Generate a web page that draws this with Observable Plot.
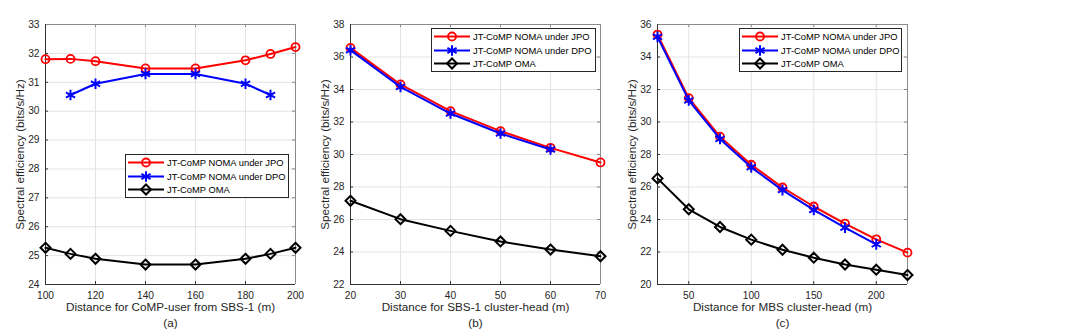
<!DOCTYPE html>
<html>
<head>
<meta charset="utf-8">
<script src="https://cdn.jsdelivr.net/npm/d3@7"></script>
<script src="https://cdn.jsdelivr.net/npm/@observablehq/plot@0.6"></script>
<style>
  html, body { margin: 0; padding: 0; background: #fff; }
  #wrap { position: relative; width: 1066px; height: 334px; overflow: hidden; font-family: "Liberation Sans", Arial, Helvetica, sans-serif; }
  #wrap > svg { position: absolute; top: 0; }
  .legend { position: absolute; background: #fff; border: 1px solid #262626; box-sizing: border-box; padding: 1px 0 0 1px; font-size: 9.4px; color: #000; }
  .legend .row { display: flex; align-items: center; height: 13.5px; white-space: nowrap; }
  .legend .row svg { display: block; margin-right: 2px; }
</style>
</head>
<body>
<div id="wrap"></div>
<script>
// ---------- data ----------
const seriesNames = ["JT-CoMP NOMA under JPO", "JT-CoMP NOMA under DPO", "JT-CoMP OMA"];
const yLabel = "Spectral efficiency (bits/s/Hz)";

// panel (a)
const aX = [100, 110, 120, 140, 160, 180, 190, 200];
const aJPO = [31.80, 31.81, 31.73, 31.48, 31.48, 31.76, 31.98, 32.22];
const aDPOX = [110, 120, 140, 160, 180, 190];
const aDPO = [30.56, 30.95, 31.29, 31.29, 30.95, 30.56];
const aOMA = [25.27, 25.06, 24.89, 24.69, 24.69, 24.89, 25.06, 25.27];
const aXTicks = [100, 120, 140, 160, 180, 200];
const aYTicks = [24, 25, 26, 27, 28, 29, 30, 31, 32, 33];
const aXLabel = "Distance for CoMP-user from SBS-1 (m)";

// panel (b)
const bX = [20, 30, 40, 50, 60, 70];
const bJPO = [36.56, 34.31, 32.67, 31.44, 30.41, 29.51];
const bDPOX = [20, 30, 40, 50, 60];
const bDPO = [36.42, 34.16, 32.52, 31.29, 30.31];
const bOMA = [27.15, 26.02, 25.30, 24.65, 24.15, 23.74];
const bXTicks = [20, 30, 40, 50, 60, 70];
const bYTicks = [22, 24, 26, 28, 30, 32, 34, 36, 38];
const bXLabel = "Distance for SBS-1 cluster-head (m)";

// panel (c)
const cX = [25, 50, 75, 100, 125, 150, 175, 200, 225];
const cJPO = [35.38, 31.47, 29.10, 27.37, 25.97, 24.80, 23.75, 22.78, 21.96];
const cDPOX = [25, 50, 75, 100, 125, 150, 175, 200];
const cDPO = [35.24, 31.33, 28.96, 27.21, 25.81, 24.59, 23.50, 22.47];
const cOMA = [26.53, 24.63, 23.54, 22.76, 22.14, 21.65, 21.23, 20.91, 20.58];
const cXTicks = [50, 100, 150, 200];
const cYTicks = [20, 22, 24, 26, 28, 30, 32, 34, 36];
const cXLabel = "Distance for MBS cluster-head (m)";

// ---------- styling ----------
const colors = ["#ff0000", "#0000ff", "#000000"];
const symbols = ["circle", "asterisk", "diamond2"];
const radii = [4, 5, 4.5];
const markerWidth = [1.8, 2, 2];
const FONT = "'Liberation Sans', Arial, Helvetica, sans-serif";
const W = 330, H = 334, MT = 24, MB = 50;

function pts(xs, ys) { return xs.map((x, i) => ({x, y: ys[i]})); }

function panel(cfg) {
  const {xDomain, yDomain, xTicks, yTicks, xLabel, tag, ml, mr, series} = cfg;
  const ph = H - MT - MB, pw = W - ml - mr;
  const marks = [
    Plot.gridX(xTicks, {stroke: "#e3e3e3", strokeOpacity: 1}),
    Plot.gridY(yTicks, {stroke: "#e3e3e3", strokeOpacity: 1}),
    // inward ticks (MATLAB style, box on)
    Plot.tickX(xTicks, {x: d => d, insetTop: ph - 3, stroke: "#333"}),
    Plot.tickX(xTicks, {x: d => d, insetBottom: ph - 3, stroke: "#888"}),
    Plot.tickY(yTicks, {y: d => d, insetRight: pw - 3, stroke: "#333"}),
    Plot.tickY(yTicks, {y: d => d, insetLeft: pw - 3, stroke: "#888"}),
    Plot.ruleY([yDomain[1]], {stroke: "#8a8a8a"}),
    Plot.ruleX([xDomain[1]], {stroke: "#8a8a8a"}),
    Plot.ruleY([yDomain[0]], {stroke: "#333"}),
    Plot.ruleX([xDomain[0]], {stroke: "#333"}),
    Plot.axisX(xTicks, {tickSize: 0, tickPadding: 7, label: null, fontSize: 10.2, tickFormat: d => String(d)}),
    Plot.axisY(yTicks, {tickSize: 0, tickPadding: 6, label: null, fontSize: 10.2, tickFormat: d => String(d)})
  ];
  series.forEach((s, i) => {
    marks.push(Plot.line(s, {x: "x", y: "y", stroke: colors[i], strokeWidth: 2}));
    marks.push(Plot.dot(s, {x: "x", y: "y", symbol: symbols[i], r: radii[i], stroke: colors[i], strokeWidth: markerWidth[i], fill: "none"}));
  });
  marks.push(Plot.text([xLabel], {text: d => d, frameAnchor: "bottom", dy: 26, fontSize: 11.7, fill: "#262626"}));
  marks.push(Plot.text([tag], {text: d => d, frameAnchor: "bottom", dy: 42, fontSize: 11.7, fill: "#262626"}));
  marks.push(Plot.text([yLabel], {text: d => d, frameAnchor: "left", textAnchor: "middle", dx: -25, rotate: -90, fontSize: 11.7, fill: "#262626"}));
  return Plot.plot({
    width: W, height: H,
    marginTop: MT, marginBottom: MB, marginLeft: ml, marginRight: mr,
    x: {domain: xDomain},
    y: {domain: yDomain},
    style: {fontFamily: FONT, color: "#262626", background: "transparent", overflow: "visible"},
    marks
  });
}

function legend(left, top, width, height) {
  const div = document.createElement("div");
  div.className = "legend";
  Object.assign(div.style, {left: left + "px", top: top + "px", width: width + "px", height: height + "px"});
  seriesNames.forEach((name, i) => {
    const row = document.createElement("div");
    row.className = "row";
    const sw = d3.create("svg").attr("width", 38).attr("height", 13);
    sw.append("line").attr("x1", 1).attr("x2", 37).attr("y1", 6.5).attr("y2", 6.5)
      .attr("stroke", colors[i]).attr("stroke-width", 2);
    const sym = {circle: d3.symbolCircle, asterisk: d3.symbolAsterisk, diamond2: d3.symbolDiamond2}[symbols[i]];
    sw.append("path").attr("transform", "translate(19,6.5)")
      .attr("d", d3.symbol(sym, Math.PI * radii[i] * radii[i])())
      .attr("fill", "none").attr("stroke", colors[i]).attr("stroke-width", markerWidth[i]);
    row.appendChild(sw.node());
    const t = document.createElement("span");
    t.textContent = name;
    row.appendChild(t);
    div.appendChild(row);
  });
  return div;
}

const wrap = document.getElementById("wrap");

const pA = panel({
  xDomain: [100, 200], yDomain: [24, 33], xTicks: aXTicks, yTicks: aYTicks, xLabel: aXLabel, tag: "(a)",
  ml: 45, mr: 35,
  series: [pts(aX, aJPO), pts(aDPOX, aDPO), pts(aX, aOMA)]
});
pA.style.left = "0px";
wrap.appendChild(pA);

const pB = panel({
  xDomain: [20, 70], yDomain: [22, 38], xTicks: bXTicks, yTicks: bYTicks, xLabel: bXLabel, tag: "(b)",
  ml: 50, mr: 30,
  series: [pts(bX, bJPO), pts(bDPOX, bDPO), pts(bX, bOMA)]
});
pB.style.left = "300px";
wrap.appendChild(pB);

const pC = panel({
  xDomain: [25, 225], yDomain: [20, 36], xTicks: cXTicks, yTicks: cYTicks, xLabel: cXLabel, tag: "(c)",
  ml: 57, mr: 23,
  series: [pts(cX, cJPO), pts(cDPOX, cDPO), pts(cX, cOMA)]
});
pC.style.left = "600px";
wrap.appendChild(pC);

wrap.appendChild(legend(125, 154, 164, 44));
wrap.appendChild(legend(431, 28, 165, 44));
wrap.appendChild(legend(739, 28, 163, 44));
</script>
</body>
</html>
